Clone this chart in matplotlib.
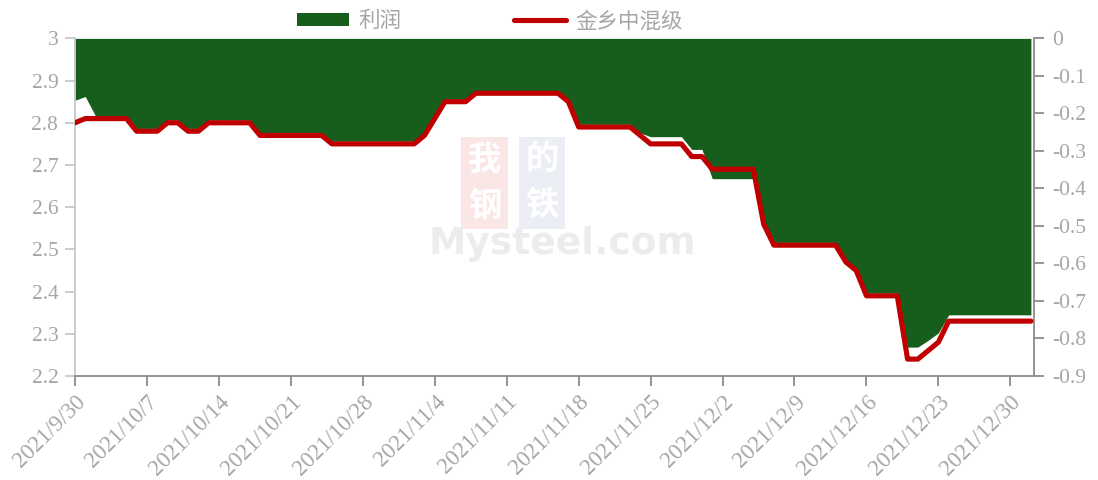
import numpy as np
import pandas as pd
import matplotlib
matplotlib.use("Agg")
import matplotlib.pyplot as plt
from matplotlib.patches import Patch
from matplotlib.lines import Line2D

# daily series 2021/9/30 - 2022/1/1
dates = pd.date_range("2021-09-30", "2022-01-01", freq="D")

# 金乡中混级 price (left axis)
price = [
    2.80, 2.81, 2.81, 2.81, 2.81, 2.81, 2.78,
    2.78, 2.78, 2.80, 2.80, 2.78, 2.78, 2.80,
    2.80, 2.80, 2.80, 2.80, 2.77, 2.77, 2.77,
    2.77, 2.77, 2.77, 2.77, 2.75, 2.75, 2.75,
    2.75, 2.75, 2.75, 2.75, 2.75, 2.75, 2.77,
    2.81, 2.85, 2.85, 2.85, 2.87, 2.87, 2.87,
    2.87, 2.87, 2.87, 2.87, 2.87, 2.87, 2.85,
    2.79, 2.79, 2.79, 2.79, 2.79, 2.79, 2.77,
    2.75, 2.75, 2.75, 2.75, 2.72, 2.72, 2.69,
    2.69, 2.69, 2.69, 2.69, 2.56, 2.51, 2.51,
    2.51, 2.51, 2.51, 2.51, 2.51, 2.47, 2.45,
    2.39, 2.39, 2.39, 2.39, 2.24, 2.24, 2.26,
    2.28, 2.33, 2.33, 2.33, 2.33, 2.33, 2.33,
    2.33, 2.33, 2.33,
]

# 利润 profit (right axis)
profit = [
    -0.165, -0.155, -0.207, -0.207, -0.207, -0.207, -0.240,
    -0.240, -0.240, -0.218, -0.218, -0.240, -0.240, -0.218,
    -0.218, -0.218, -0.218, -0.218, -0.252, -0.252, -0.252,
    -0.252, -0.252, -0.252, -0.252, -0.274, -0.274, -0.274,
    -0.274, -0.274, -0.274, -0.274, -0.274, -0.274, -0.252,
    -0.207, -0.162, -0.162, -0.162, -0.139, -0.139, -0.139,
    -0.139, -0.139, -0.139, -0.139, -0.139, -0.139, -0.162,
    -0.229, -0.229, -0.229, -0.229, -0.229, -0.229, -0.252,
    -0.262, -0.262, -0.262, -0.262, -0.296, -0.296, -0.374,
    -0.374, -0.374, -0.374, -0.374, -0.488, -0.544, -0.544,
    -0.544, -0.544, -0.544, -0.544, -0.544, -0.589, -0.612,
    -0.679, -0.679, -0.679, -0.679, -0.823, -0.823, -0.805,
    -0.785, -0.737, -0.737, -0.737, -0.737, -0.737, -0.737,
    -0.737, -0.737, -0.737,
]

tick_labels = ["2021/9/30", "2021/10/7", "2021/10/14", "2021/10/21",
               "2021/10/28", "2021/11/4", "2021/11/11", "2021/11/18",
               "2021/11/25", "2021/12/2", "2021/12/9", "2021/12/16",
               "2021/12/23", "2021/12/30"]
left_ticks = [2.2, 2.3, 2.4, 2.5, 2.6, 2.7, 2.8, 2.9, 3.0]
left_labels = ["2.2", "2.3", "2.4", "2.5", "2.6", "2.7", "2.8", "2.9", "3"]
right_ticks = [0, -0.1, -0.2, -0.3, -0.4, -0.5, -0.6, -0.7, -0.8, -0.9]
right_labels = ["0", "-0.1", "-0.2", "-0.3", "-0.4", "-0.5", "-0.6", "-0.7", "-0.8", "-0.9"]

green = "#175E1D"
red = "#C00000"
label_color = "#a6a6a6"
serif = ["Liberation Serif", "DejaVu Serif"]
cjk = ["Noto Sans CJK SC", "DejaVu Sans"]

fig = plt.figure(figsize=(10.98, 4.80), dpi=100)
ax = fig.add_axes([0.0683, 0.2167, 0.8734, 0.7033])
ax2 = ax.twinx()

# area on the right axis, line on the left axis drawn above it
ax2.fill_between(dates, profit, 0, color=green, lw=0, zorder=2)
ax.plot(dates, price, color=red, lw=3.7, solid_capstyle="round", zorder=3)
ax.set_zorder(ax2.get_zorder() + 1)
ax.patch.set_visible(False)

# faint watermark
marks = [("我", 0.427, 0.640, "#fbe6e6"), ("的", 0.487, 0.640, "#eceef6"),
         ("钢", 0.427, 0.505, "#fbe6e6"), ("铁", 0.487, 0.505, "#eceef6")]
for ch, mx, my, fc in marks:
    ax2.text(mx, my, ch, transform=ax2.transAxes, ha="center", va="center",
             fontsize=24, color="white", family=cjk, fontweight="bold", zorder=1,
             bbox=dict(boxstyle="square,pad=0.2", fc=fc, ec="none"))
ax2.text(0.508, 0.392, "Mysteel.com", transform=ax2.transAxes, ha="center", va="center",
         fontsize=27, color="#ececec", family=["DejaVu Sans"], fontweight="bold", zorder=1)

ax.set_xlim(dates[0], dates[0] + pd.Timedelta(days=93.3))
ax.set_ylim(2.2, 3.0)
ax2.set_ylim(-0.9, 0)

ax.set_xticks(pd.to_datetime(tick_labels, format="%Y/%m/%d"))
ax.set_xticklabels(tick_labels, rotation=45, ha="right", rotation_mode="anchor",
                   family=serif, fontsize=16.5, color=label_color)
ax.set_yticks(left_ticks)
ax.set_yticklabels(left_labels, family=serif, fontsize=15.5, color=label_color)
ax2.set_yticks(right_ticks)
ax2.set_yticklabels(right_labels, family=serif, fontsize=15.5, color=label_color)

for a in (ax, ax2):
    for s in a.spines.values():
        s.set_visible(False)
ax.spines["left"].set_visible(True)
ax.spines["left"].set_color("#c8c8c8")
ax.spines["bottom"].set_visible(True)
ax.spines["bottom"].set_color("#8c8c8c")
ax2.spines["right"].set_visible(True)
ax2.spines["right"].set_color("#8c8c8c")
for s in ("left", "bottom"):
    ax.spines[s].set_linewidth(1.3)
ax2.spines["right"].set_linewidth(1.3)

ax.tick_params(axis="y", direction="out", length=7, width=1.3, color="#c8c8c8", pad=5)
ax.tick_params(axis="x", direction="out", length=7, width=1.3, color="#8c8c8c", pad=4)
ax2.tick_params(axis="y", direction="out", length=7, width=1.3, color="#8c8c8c", pad=6)

handles = [Patch(facecolor=green, edgecolor="none"),
           Line2D([0], [0], color=red, lw=3.7, solid_capstyle="round")]
leg = fig.legend(handles, ["利润", "金乡中混级"], loc="center", ncol=2,
                 bbox_to_anchor=(0.446, 0.956), frameon=False,
                 prop={"family": cjk, "size": 15.5},
                 handlelength=2.42, handleheight=0.5, handletextpad=0.42,
                 columnspacing=5.25)
for t in leg.get_texts():
    t.set_color(label_color)

fig.savefig("out.png", dpi=100)
